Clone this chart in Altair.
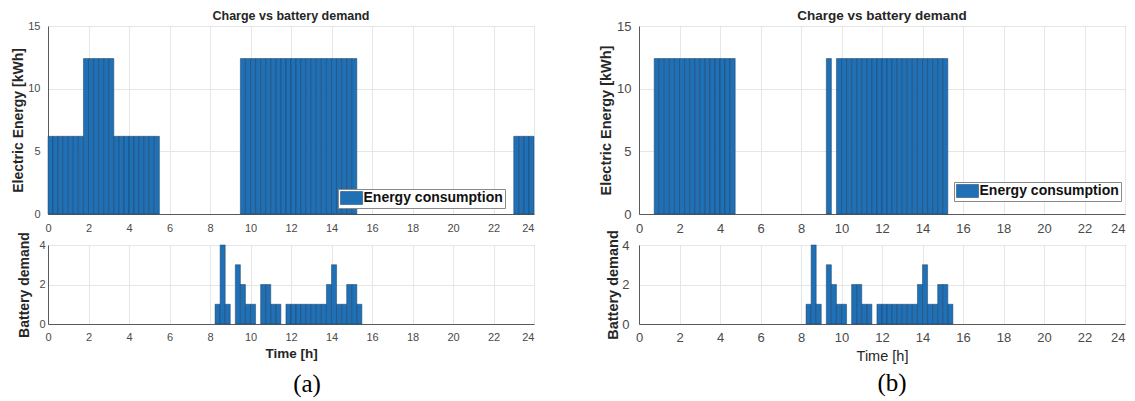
import altair as alt
import pandas as pd

FONT = "Liberation Sans"
SERIF = "Liberation Serif"
BAR_FILL = "#1f70b5"
BAR_EDGE = "#1c3d63"

# ---- data: one value per 15-minute slot, 4 slots per hour (hours 0..23) ----
energy_a = [
    6.2, 6.2, 6.2, 6.2,      # 0 h
    6.2, 6.2, 6.2, 12.4,     # 1 h
    12.4, 12.4, 12.4, 12.4,  # 2 h
    12.4, 6.2, 6.2, 6.2,     # 3 h
    6.2, 6.2, 6.2, 6.2,      # 4 h
    6.2, 6.2, 0, 0,          # 5 h
    0, 0, 0, 0,              # 6 h
    0, 0, 0, 0,              # 7 h
    0, 0, 0, 0,              # 8 h
    0, 0, 12.4, 12.4,        # 9 h
    12.4, 12.4, 12.4, 12.4,  # 10 h
    12.4, 12.4, 12.4, 12.4,  # 11 h
    12.4, 12.4, 12.4, 12.4,  # 12 h
    12.4, 12.4, 12.4, 12.4,  # 13 h
    12.4, 12.4, 12.4, 12.4,  # 14 h
    12.4, 0, 0, 0,           # 15 h
    0, 0, 0, 0,              # 16 h
    0, 0, 0, 0,              # 17 h
    0, 0, 0, 0,              # 18 h
    0, 0, 0, 0,              # 19 h
    0, 0, 0, 0,              # 20 h
    0, 0, 0, 0,              # 21 h
    0, 0, 0, 0,              # 22 h
    6.2, 6.2, 6.2, 6.2,      # 23 h
]

energy_b = [
    0, 0, 0, 12.4,           # 0 h
    12.4, 12.4, 12.4, 12.4,  # 1 h
    12.4, 12.4, 12.4, 12.4,  # 2 h
    12.4, 12.4, 12.4, 12.4,  # 3 h
    12.4, 12.4, 12.4, 0,     # 4 h
    0, 0, 0, 0,              # 5 h
    0, 0, 0, 0,              # 6 h
    0, 0, 0, 0,              # 7 h
    0, 0, 0, 0,              # 8 h
    0, 12.4, 0, 12.4,        # 9 h
    12.4, 12.4, 12.4, 12.4,  # 10 h
    12.4, 12.4, 12.4, 12.4,  # 11 h
    12.4, 12.4, 12.4, 12.4,  # 12 h
    12.4, 12.4, 12.4, 12.4,  # 13 h
    12.4, 12.4, 12.4, 12.4,  # 14 h
    12.4, 0, 0, 0,           # 15 h
    0, 0, 0, 0,              # 16 h
    0, 0, 0, 0,              # 17 h
    0, 0, 0, 0,              # 18 h
    0, 0, 0, 0,              # 19 h
    0, 0, 0, 0,              # 20 h
    0, 0, 0, 0,              # 21 h
    0, 0, 0, 0,              # 22 h
    0, 0, 0, 0,              # 23 h
]

battery_a = [
    0, 0, 0, 0,   0, 0, 0, 0,   0, 0, 0, 0,   0, 0, 0, 0,   # 0-3 h
    0, 0, 0, 0,   0, 0, 0, 0,   0, 0, 0, 0,   0, 0, 0, 0,   # 4-7 h
    0, 1, 4, 1,   0, 3, 2, 1,   1, 0, 2, 2,   1, 1, 0, 1,   # 8-11 h
    1, 1, 1, 1,   1, 1, 1, 2,   3, 1, 1, 2,   2, 1, 0, 0,   # 12-15 h
    0, 0, 0, 0,   0, 0, 0, 0,   0, 0, 0, 0,   0, 0, 0, 0,   # 16-19 h
    0, 0, 0, 0,   0, 0, 0, 0,   0, 0, 0, 0,   0, 0, 0, 0,   # 20-23 h
]

battery_b = [
    0, 0, 0, 0,   0, 0, 0, 0,   0, 0, 0, 0,   0, 0, 0, 0,   # 0-3 h
    0, 0, 0, 0,   0, 0, 0, 0,   0, 0, 0, 0,   0, 0, 0, 0,   # 4-7 h
    0, 1, 4, 1,   0, 3, 2, 1,   1, 0, 2, 2,   1, 1, 0, 1,   # 8-11 h
    1, 1, 1, 1,   1, 1, 1, 2,   3, 1, 1, 2,   2, 1, 0, 0,   # 12-15 h
    0, 0, 0, 0,   0, 0, 0, 0,   0, 0, 0, 0,   0, 0, 0, 0,   # 16-19 h
    0, 0, 0, 0,   0, 0, 0, 0,   0, 0, 0, 0,   0, 0, 0, 0,   # 20-23 h
]

slot_start = [i / 4 for i in range(96)]
x_ticks = [0, 2, 4, 6, 8, 10, 12, 14, 16, 18, 20, 22, 24]
energy_ticks = [0, 5, 10, 15]
battery_ticks = [0, 2, 4]
series_name = "Energy consumption"
chart_title = "Charge vs battery demand"
energy_label = "Electric Energy [kWh]"
battery_label = "Battery demand"
time_label = "Time [h]"
panel_labels = ["(a)", "(b)"]

W = 486
H_TOP = 188
H_BOT = 79

LEG_PATH = "M-1.7,-1H1.7V1H-1.7Z"


def slots(values):
    df = pd.DataFrame({"start": slot_start, "value": values})
    df["end"] = df["start"] + 0.25
    df["base"] = 0.0
    df["series"] = series_name
    return df[df["value"] > 0]


def x_axis(label_fs, label_pad, title=None, title_fs=13, title_weight="bold", title_y=29):
    kw = dict(
        values=x_ticks, labelFlush=False, labelFontSize=label_fs, labelPadding=label_pad,
        labelAlign={"condition": {"test": "datum.value == 24", "value": "right"}, "value": "center"},
        grid=True, ticks=False, tickSize=0,
    )
    if title is None:
        kw["title"] = None
    else:
        kw.update(title=title, titleFontSize=title_fs, titleFontWeight=title_weight,
                  titleY=title_y, titleBaseline="middle")
    return alt.Axis(**kw)


def y_axis(title, ticks, label_fs, label_pad, title_fs, title_x, title_weight="bold"):
    return alt.Axis(
        values=ticks, labelFontSize=label_fs, labelPadding=label_pad, grid=True,
        ticks=False, tickSize=0, title=title, titleFontSize=title_fs,
        titleFontWeight=title_weight, titleX=title_x, titleBaseline="middle",
    )


def top_chart(values, label_fs, title_fs, ytitle_fs, ytitle_x, leg_x, leg_y, leg_fs, title_off):
    return alt.Chart(
        slots(values),
        title=alt.TitleParams(chart_title, font=FONT, fontSize=title_fs, fontWeight="bold",
                              color="#262626", anchor="middle", frame="group", offset=title_off),
    ).mark_bar(stroke=BAR_EDGE, strokeWidth=0.5).encode(
        x=alt.X("start:Q", scale=alt.Scale(domain=[0, 24], nice=False, zero=False),
                axis=x_axis(label_fs, 8)),
        x2="end:Q",
        y=alt.Y("value:Q", scale=alt.Scale(domain=[0, 15], nice=False),
                axis=y_axis(energy_label, energy_ticks, label_fs, 8, ytitle_fs, ytitle_x)),
        y2="base:Q",
        color=alt.Color(
            "series:N", scale=alt.Scale(domain=[series_name], range=[BAR_FILL]),
            legend=alt.Legend(
                orient="none", legendX=leg_x, legendY=leg_y, title=None,
                fillColor="white", strokeColor="#8a8a8a", padding=2, cornerRadius=0,
                symbolType=LEG_PATH, symbolSize=169, symbolOffset=4.5,
                symbolStrokeColor=BAR_EDGE, symbolStrokeWidth=0.5, symbolOpacity=1,
                labelFont=FONT, labelFontSize=leg_fs, labelFontWeight="bold",
                labelColor="#111111", labelOffset=5,
            ),
        ),
    ).properties(width=W, height=H_TOP)


def bottom_chart(values, label_fs, ylabel_pad, ytitle_fs, ytitle_x, xtitle_fs, xtitle_weight,
                 xtitle_y, panel, panel_x, panel_y, panel_fs):
    bars = alt.Chart(slots(values)).mark_bar(
        color=BAR_FILL, stroke=BAR_EDGE, strokeWidth=0.5
    ).encode(
        x=alt.X("start:Q", scale=alt.Scale(domain=[0, 24], nice=False, zero=False),
                axis=x_axis(label_fs, 7, time_label, xtitle_fs, xtitle_weight, xtitle_y)),
        x2="end:Q",
        y=alt.Y("value:Q", scale=alt.Scale(domain=[0, 4], nice=False),
                axis=y_axis(battery_label, battery_ticks, label_fs, ylabel_pad, ytitle_fs, ytitle_x)),
        y2="base:Q",
    )
    txt = alt.Chart(pd.DataFrame({"label": [panel]})).mark_text(
        font=SERIF, fontSize=panel_fs, align="center", baseline="middle", color="#000000"
    ).encode(x=alt.value(panel_x), y=alt.value(panel_y), text="label:N")
    return alt.layer(bars, txt).properties(width=W, height=H_BOT)


a_top = top_chart(energy_a, 11, 12.5, 14, -30, 290, 163, 14, -2)
b_top = top_chart(energy_b, 13, 13.5, 14.5, -33, 315, 156, 14, -2)
a_bot = bottom_chart(battery_a, 11, 3, 14, -24, 13.5, "bold", 29, panel_labels[0], 259, 139, 25)
b_bot = bottom_chart(battery_b, 13, 10, 14.5, -26, 14.5, "normal", 32, panel_labels[1], 253, 138, 25)

chart = alt.ConcatChart(
    concat=[a_top, b_top, a_bot, b_bot], columns=2, bounds="flush",
    spacing=alt.RowColnumber(row=31, column=105),
).resolve_scale(color="independent").resolve_legend(color="independent").properties(
    padding={"left": 2, "top": 0, "right": 0, "bottom": 0}
).configure_view(stroke="#9a9a9a", strokeWidth=1).configure_axis(
    labelFont=FONT, titleFont=FONT, labelColor="#4a4a4a", titleColor="#262626",
    domainColor="#5a5a5a", gridColor="#e6e6e6", gridWidth=1,
)

chart.save("out.html", embed_options={"renderer": "svg", "actions": False})
